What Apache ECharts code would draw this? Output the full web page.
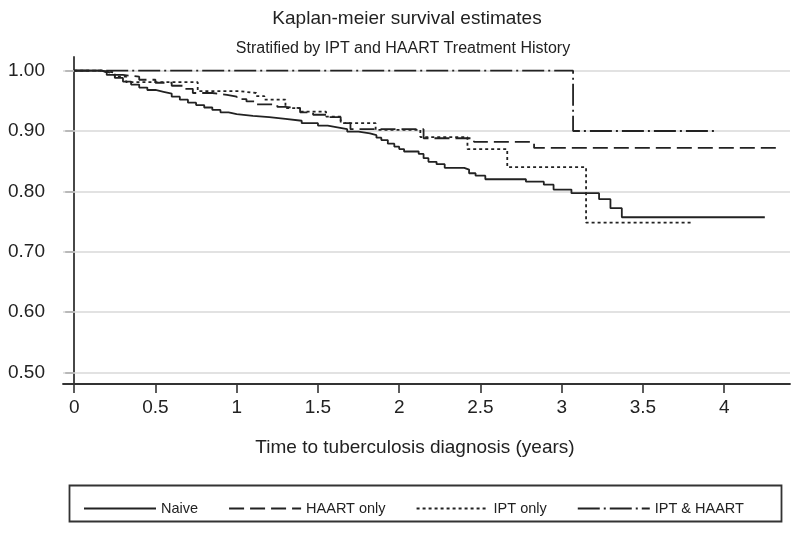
<!DOCTYPE html>
<html>
<head>
<meta charset="utf-8">
<script src="https://cdn.jsdelivr.net/npm/echarts@6/dist/echarts.min.js"></script>
<style>html,body{margin:0;padding:0;background:#fff}#c{width:800px;height:533px}</style>
</head>
<body>
<div id="c"></div>
<script>
const titleText = 'Kaplan-meier survival estimates';
const subtitleText = 'Stratified by IPT and HAART Treatment History';
const xAxisTitle = 'Time to tuberculosis diagnosis (years)';
const seriesNames = ['Naive', 'HAART only', 'IPT only', 'IPT & HAART'];
const xTicks = [0, 0.5, 1, 1.5, 2, 2.5, 3, 3.5, 4];
const yTicks = [0.5, 0.6, 0.7, 0.8, 0.9, 1.0];

// [time, survival] pairs (step after each time)
const naive = [
  [0, 1.0], [0.17, 0.997], [0.2, 0.993], [0.25, 0.988], [0.3, 0.982], [0.35, 0.977],
  [0.4, 0.972], [0.45, 0.968], [0.5, 0.965], [0.55, 0.962], [0.6, 0.957], [0.65, 0.952],
  [0.7, 0.947], [0.75, 0.943], [0.8, 0.939], [0.85, 0.935], [0.9, 0.931], [0.95, 0.928],
  [1.0, 0.925], [1.1, 0.923], [1.2, 0.920], [1.3, 0.917], [1.4, 0.913], [1.5, 0.909],
  [1.56, 0.906], [1.62, 0.903], [1.68, 0.899], [1.75, 0.896], [1.82, 0.893], [1.86, 0.889],
  [1.89, 0.885], [1.93, 0.879], [1.97, 0.874], [2.0, 0.870], [2.03, 0.866], [2.12, 0.862],
  [2.15, 0.855], [2.18, 0.849], [2.23, 0.845], [2.28, 0.839], [2.40, 0.836], [2.43, 0.830],
  [2.47, 0.826], [2.53, 0.820], [2.78, 0.816], [2.89, 0.811], [2.95, 0.803], [3.06, 0.797],
  [3.23, 0.787], [3.30, 0.772], [3.37, 0.757], [4.25, 0.757]
];
const haartOnly = [
  [0, 1.0], [0.17, 0.997], [0.22, 0.993], [0.3, 0.990], [0.4, 0.985], [0.5, 0.980],
  [0.6, 0.975], [0.68, 0.970], [0.73, 0.963], [0.85, 0.960], [0.94, 0.957], [1.0, 0.953],
  [1.06, 0.949], [1.12, 0.944], [1.25, 0.940], [1.30, 0.938], [1.39, 0.931], [1.47, 0.927],
  [1.56, 0.923], [1.64, 0.913], [1.70, 0.903], [2.15, 0.888], [2.46, 0.882], [2.83, 0.872],
  [4.34, 0.872]
];
const iptOnly = [
  [0, 1.0], [0.17, 0.997], [0.25, 0.990], [0.32, 0.981], [0.76, 0.966], [1.02, 0.963],
  [1.12, 0.958], [1.17, 0.952], [1.30, 0.938], [1.39, 0.932], [1.55, 0.924], [1.64, 0.913],
  [1.855, 0.902], [2.13, 0.890], [2.42, 0.870], [2.665, 0.840], [3.15, 0.748], [3.80, 0.748]
];
const iptHaart = [
  [0, 1.0], [3.07, 0.90], [3.94, 0.90]
];

const lineColor = '#222';
const font = '"Liberation Sans", Arial, Helvetica, sans-serif';

const chart = echarts.init(document.getElementById('c'), null, { renderer: 'canvas' });

function kmSeries(name, data, type, z) {
  return {
    name: name, type: 'line', step: 'end', data: data, symbol: 'none', showSymbol: false, z: z,
    lineStyle: { color: lineColor, width: 1.8, type: type },
    itemStyle: { color: lineColor },
    animation: false
  };
}

chart.setOption({
  backgroundColor: '#fff',
  animation: false,
  textStyle: { fontFamily: font },
  grid: { left: 63, right: 10, top: 57, bottom: 149, containLabel: false },
  xAxis: {
    type: 'value', min: -0.069, max: 4.405,
    axisLine: { show: true, lineStyle: { color: '#333', width: 1.8 } },
    axisTick: { show: true, length: 9, customValues: xTicks, lineStyle: { color: '#333', width: 1.6 } },
    axisLabel: { customValues: xTicks, color: '#222', fontSize: 19, margin: 14, fontFamily: font },
    splitLine: { show: false }
  },
  yAxis: {
    type: 'value', min: 0.4806, max: 1.0227,
    axisLine: { show: true, lineStyle: { color: '#333', width: 1.8 } },
    axisTick: { show: true, length: 9, customValues: yTicks, lineStyle: { color: '#333', width: 1.6 } },
    axisLabel: { customValues: yTicks, color: '#222', fontSize: 19, margin: 18, fontFamily: font,
      formatter: v => v.toFixed(2) },
    splitLine: { show: false }
  },
  legend: {
    data: seriesNames,
    left: 78, top: 496,
    itemWidth: 72, itemHeight: 14, itemGap: 30, itemTextGap: 12,
    itemStyle: { opacity: 0 },
    textStyle: { fontSize: 14.5, color: '#222', fontFamily: font },
    selectedMode: false
  },
  graphic: [
    { type: 'text', style: { text: titleText, x: 407, y: 19, textAlign: 'center', textVerticalAlign: 'middle', fontSize: 19, fill: '#222', fontFamily: font } },
    { type: 'text', style: { text: subtitleText, x: 403, y: 49, textAlign: 'center', textVerticalAlign: 'middle', fontSize: 16, fill: '#222', fontFamily: font } },
    { type: 'text', style: { text: xAxisTitle, x: 415, y: 448, textAlign: 'center', textVerticalAlign: 'middle', fontSize: 19, fill: '#222', fontFamily: font } },
    { type: 'rect', shape: { x: 69.5, y: 485.5, width: 712, height: 36 }, style: { fill: 'none', stroke: '#333', lineWidth: 1.8 }, z: -1 }
  ],
  series: [
    {
      name: 'grid', type: 'line', data: [], z: 1, symbol: 'none', silent: true,
      markLine: {
        z: 1, silent: true, symbol: 'none', label: { show: false }, animation: false,
        lineStyle: { color: '#d9d9d9', width: 1.5, type: 'solid' },
        data: yTicks.map(v => ({ yAxis: v }))
      }
    },
    kmSeries(seriesNames[0], naive, 'solid', 3),
    kmSeries(seriesNames[1], haartOnly, [15, 6], 3),
    kmSeries(seriesNames[2], iptOnly, [3, 3], 3),
    kmSeries(seriesNames[3], iptHaart, [22, 4, 2, 4], 3)
  ]
});
</script>
</body>
</html>
